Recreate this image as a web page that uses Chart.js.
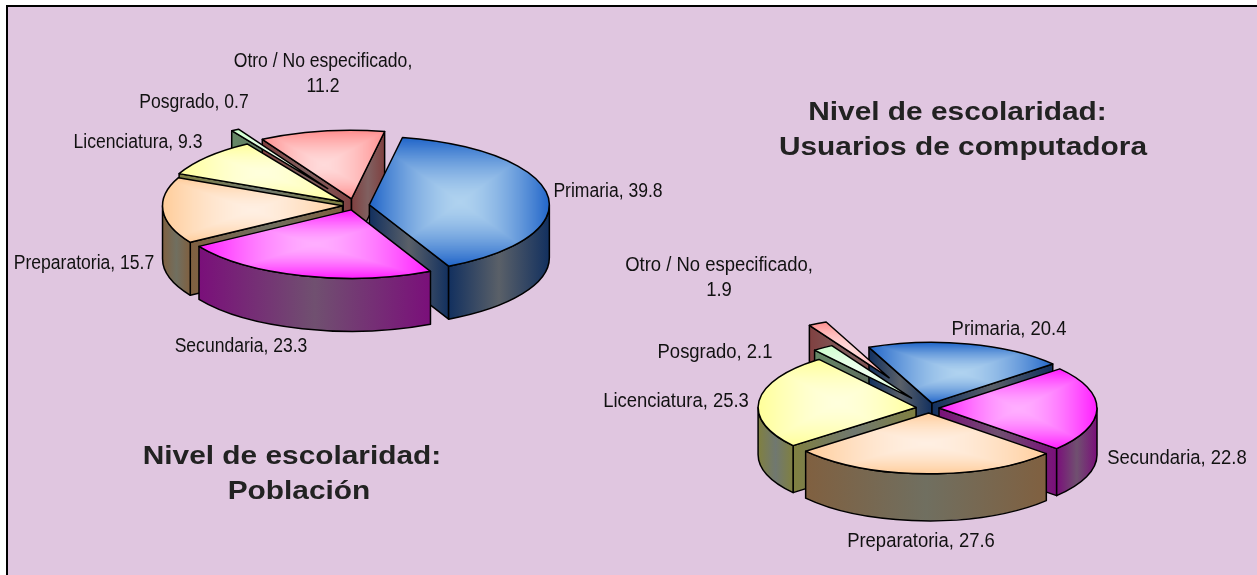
<!DOCTYPE html>
<html lang="es">
<head>
<meta charset="utf-8">
<title>Nivel de escolaridad</title>
<script src="https://cdn.jsdelivr.net/npm/chart.js@4"></script>
<style>
html,body{margin:0;padding:0;background:#fff;width:1257px;height:575px;overflow:hidden}
#frame{position:absolute;left:6px;top:5px;right:0;bottom:0;background:#E0C6E0;border-left:2px solid #000;border-top:2px solid #000}
canvas{position:absolute;left:0;top:0}
</style>
</head>
<body>
<div id="frame"></div>
<canvas id="poblacion" width="1257" height="575"></canvas>
<canvas id="usuarios" width="1257" height="575"></canvas>
<script>
// ---- data ----
const categories = ['Primaria', 'Secundaria', 'Preparatoria', 'Licenciatura', 'Posgrado', 'Otro / No especificado'];
const poblacionValues = [39.8, 23.3, 15.7, 9.3, 0.7, 11.2];
const usuariosValues  = [20.4, 22.8, 27.6, 25.3, 2.1, 1.9];
const poblacionTitle = ['Nivel de escolaridad:', 'Población'];
const usuariosTitle  = ['Nivel de escolaridad:', 'Usuarios de computadora'];

// ---- style ----
const edgeColors   = ['#1E63C8', '#FF19FF', '#FFCC99', '#FFFF99', '#CCFFCC', '#FF8C8C'];
const centreColors = ['#AFD2EF', '#FFAEFF', '#FFEFE2', '#FFFFDC', '#EEFFEE', '#FFDADA'];
const sideDark     = ['#12305F', '#7A0F7A', '#806040', '#808040', '#668866', '#804040'];
const sideMid      = ['#5A6068', '#705070', '#706F60', '#707870', '#607060', '#806060'];

// ---- per-pie layout ----
const poblacionExplode = [15, 12, 12, 15, 52, 18];
const usuariosExplode  = [13, 10, 13, 13, 31, 88];
const poblacionLabelPos = [[608,192],[241,347],[84,264],[138,143],[194,103],[323,62]];
const usuariosLabelPos  = [[1009,329],[1177,458],[921,541],[676,401],[715,352],[719,265]];
const poblacionTitlePos = [[292,457],[299,492]];
const usuariosTitlePos  = [[957.5,113],[963,148]];

const TILE = 800;
const rgb = h => [1, 3, 5].map(p => parseInt(h.substr(p, 2), 16));

// rectangular "path" gradient centred on the slice's bounding box
function boxPattern(ctx, el, i) {
  const R = el.outerRadius, s = el.startAngle, e = el.endAngle;
  const xs = [el.x, el.x + Math.cos(s) * R, el.x + Math.cos(e) * R];
  const ys = [el.y, el.y + Math.sin(s) * R, el.y + Math.sin(e) * R];
  for (let q = -8; q <= 8; q++) {
    const a = q * Math.PI / 2;
    if (a > s && a < e) { xs.push(el.x + Math.cos(a) * R); ys.push(el.y + Math.sin(a) * R); }
  }
  const x0 = Math.min(...xs), x1 = Math.max(...xs), y0 = Math.min(...ys), y1 = Math.max(...ys);
  const gx = (x0 + x1) / 2, gy = (y0 + y1) / 2, hw = (x1 - x0) / 2 + 1, hh = (y1 - y0) / 2 + 1;
  const off = document.createElement('canvas');
  off.width = off.height = TILE;
  const oc = off.getContext('2d');
  const img = oc.createImageData(TILE, TILE);
  const c0 = rgb(centreColors[i]), c1 = rgb(edgeColors[i]);
  for (let py = 0, n = 0; py < TILE; py++) {
    for (let px = 0; px < TILE; px++, n += 4) {
      const t = Math.min(1, Math.max(Math.abs(px - TILE / 2) / hw, Math.abs(py - TILE / 2) / hh));
      const u = Math.pow(t, 1.6);
      img.data[n] = c0[0] + (c1[0] - c0[0]) * u;
      img.data[n + 1] = c0[1] + (c1[1] - c0[1]) * u;
      img.data[n + 2] = c0[2] + (c1[2] - c0[2]) * u;
      img.data[n + 3] = 255;
    }
  }
  oc.putImageData(img, 0, 0);
  const pat = ctx.createPattern(off, 'repeat');
  pat.setTransform(new DOMMatrix().translate(gx - TILE / 2, gy - TILE / 2));
  return pat;
}

function stretched(ctx, text, x, y, sx) {
  ctx.save();
  ctx.translate(x, y);
  ctx.scale(sx, 1);
  ctx.fillText(text, 0, 0);
  ctx.restore();
}

const pie3d = {
  id: 'pie3d',
  afterDatasetsUpdate(chart, args, o) {
    const els = chart.getDatasetMeta(0).data;
    els.forEach((el, i) => {
      const mid = (el.startAngle + el.endAngle) / 2;
      el.x += Math.cos(mid) * o.explode[i];
      el.y += Math.sin(mid) * o.explode[i];
      el.options = Object.assign({}, el.options, {backgroundColor: boxPattern(chart.ctx, el, i)});
    });
  },
  beforeDatasetsDraw(chart, args, o) {
    const ctx = chart.ctx;
    const a = chart.chartArea;
    const cy = (a.top + a.bottom) / 2;
    const els = chart.getDatasetMeta(0).data;
    const sy = y => cy + (y - cy) * o.k;
    const order = els.map((el, i) => i).sort((p, q) => {
      const f = e => sy(e.y) + Math.sin((e.startAngle + e.endAngle) / 2) * e.outerRadius * 0.5 * o.k;
      return f(els[p]) - f(els[q]);
    });
    ctx.save();
    ctx.lineWidth = 1.5;
    ctx.strokeStyle = '#000';
    ctx.lineJoin = 'round';
    const fillFace = (i, x0, x1) => {
      const lo = Math.min(x0, x1), hi = Math.max(x0, x1) + 0.01;
      const g = ctx.createLinearGradient(lo, 0, hi, 0);
      g.addColorStop(0, sideDark[i]);
      g.addColorStop(0.5, sideMid[i]);
      g.addColorStop(1, sideDark[i]);
      ctx.fillStyle = g;
      ctx.fill();
      ctx.stroke();
    };
    order.forEach(i => {
      const el = els[i], R = el.outerRadius, x = el.x, y = sy(el.y), d = o.depth;
      const ends = [[el.startAngle, Math.cos(el.startAngle) < 0], [el.endAngle, Math.cos(el.endAngle) > 0]];
      ends.forEach(([ang, vis]) => {
        if (!vis) return;
        const ex = x + Math.cos(ang) * R, ey = y + Math.sin(ang) * R * o.k;
        ctx.beginPath();
        ctx.moveTo(x, y); ctx.lineTo(ex, ey); ctx.lineTo(ex, ey + d); ctx.lineTo(x, y + d);
        ctx.closePath();
        fillFace(i, x, ex);
      });
      for (let n = -1; n <= 1; n++) {
        const s = Math.max(el.startAngle, 2 * Math.PI * n);
        const e = Math.min(el.endAngle, Math.PI + 2 * Math.PI * n);
        if (e <= s) continue;
        ctx.beginPath();
        ctx.ellipse(x, y, R, R * o.k, 0, s, e);
        ctx.ellipse(x, y + d, R, R * o.k, 0, e, s, true);
        ctx.closePath();
        fillFace(i, x + Math.cos(s) * R, x + Math.cos(e) * R);
      }
    });
    ctx.restore();
    // tops are drawn by the library inside this squashed transform
    ctx.save();
    ctx.translate(0, cy);
    ctx.scale(1, o.k);
    ctx.translate(0, -cy);
  },
  afterDatasetsDraw(chart, args, o) {
    const ctx = chart.ctx;
    ctx.restore();
    const a = chart.chartArea;
    const cy = (a.top + a.bottom) / 2;
    const els = chart.getDatasetMeta(0).data;
    ctx.save();
    ctx.lineWidth = 1.5;
    ctx.strokeStyle = '#000';
    ctx.lineJoin = 'round';
    els.forEach(el => {
      const x = el.x, y = cy + (el.y - cy) * o.k, R = el.outerRadius;
      ctx.beginPath();
      ctx.moveTo(x, y);
      ctx.ellipse(x, y, R, R * o.k, 0, el.startAngle, el.endAngle);
      ctx.closePath();
      ctx.stroke();
    });
    // data labels
    ctx.fillStyle = '#111';
    ctx.textAlign = 'center';
    ctx.textBaseline = 'middle';
    ctx.font = o.labelSize + 'px "Liberation Sans", Arial, sans-serif';
    const vals = chart.data.datasets[0].data;
    chart.data.labels.forEach((name, i) => {
      const p = o.labelPos[i];
      if (name.length > 20) {
        stretched(ctx, name + ',', p[0], p[1], 0.9);
        stretched(ctx, String(vals[i]), p[0], p[1] + 25, 0.9);
      } else {
        stretched(ctx, name + ', ' + vals[i], p[0], p[1], 0.9);
      }
    });
    // titles
    ctx.fillStyle = '#222';
    ctx.font = 'bold 25.5px "Liberation Sans", Arial, sans-serif';
    o.title.forEach((t, i) => stretched(ctx, t, o.titlePos[i][0], o.titlePos[i][1], 1.17));
    ctx.restore();
  }
};

function makePie(id, values, rotation, radius, padding, cfg) {
  return new Chart(document.getElementById(id), {
    type: 'pie',
    data: {
      labels: categories,
      datasets: [{data: values, radius: radius, borderWidth: 0, backgroundColor: edgeColors, clip: false}]
    },
    options: {
      responsive: false,
      animation: false,
      rotation: rotation,
      layout: {padding: padding},
      events: [],
      plugins: {legend: {display: false}, tooltip: {enabled: false}, pie3d: cfg}
    },
    plugins: [pie3d]
  });
}

makePie('poblacion', poblacionValues, 10.6, 180,
  {left: 0, right: 548, top: 0, bottom: 164},
  {k: 0.38, depth: 53, explode: poblacionExplode, labelPos: poblacionLabelPos, labelSize: 19.5,
   title: poblacionTitle, titlePos: poblacionTitlePos});
makePie('usuarios', usuariosValues, -23.5, 158,
  {left: 601, right: 0, top: 241, bottom: 0},
  {k: 0.385, depth: 47, explode: usuariosExplode, labelPos: usuariosLabelPos, labelSize: 20.5,
   title: usuariosTitle, titlePos: usuariosTitlePos});
</script>
</body>
</html>
